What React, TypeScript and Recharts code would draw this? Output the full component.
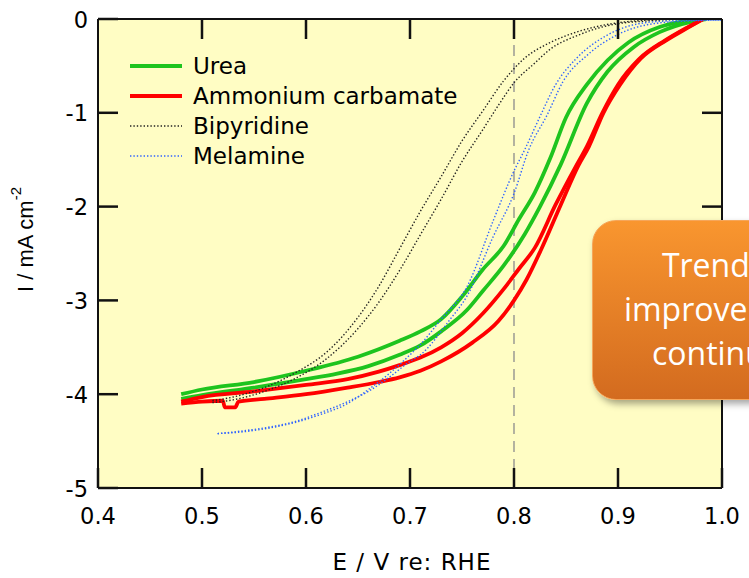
import React from 'react';
import {
	CartesianGrid,
	Legend,
	Line,
	LineChart,
	ReferenceLine,
	XAxis,
	YAxis,
} from 'recharts';

// potential (V vs RHE) and current (mA cm-2), two scans per compound
const ureaScan1E = [0.48, 0.5, 0.55, 0.6, 0.65, 0.69, 0.71, 0.73, 0.75, 0.77, 0.79, 0.805, 0.82, 0.835, 0.85, 0.87, 0.89, 0.91, 0.94, 0.96, 0.98];
const ureaScan1I = [-4.0, -3.95, -3.87, -3.75, -3.6, -3.43, -3.33, -3.2, -2.96, -2.67, -2.42, -2.13, -1.85, -1.48, -1.05, -0.7, -0.44, -0.25, -0.085, -0.03, 0];
const ureaScan2E = [0.48, 0.5, 0.55, 0.6, 0.63, 0.66, 0.69, 0.71, 0.73, 0.755, 0.77, 0.79, 0.81, 0.825, 0.845, 0.87, 0.89, 0.915, 0.94, 0.97, 0.985];
const ureaScan2I = [-4.05, -4.01, -3.93, -3.84, -3.78, -3.7, -3.58, -3.48, -3.33, -3.1, -2.9, -2.63, -2.3, -2.0, -1.55, -0.9, -0.56, -0.3, -0.14, -0.03, 0];

const carbScan1E = [0.48, 0.5, 0.55, 0.6, 0.64, 0.67, 0.69, 0.71, 0.73, 0.75, 0.77, 0.79, 0.805, 0.82, 0.84, 0.86, 0.87, 0.885, 0.9, 0.92, 0.945, 0.965, 0.982];
const carbScan1I = [-4.08, -4.03, -3.97, -3.9, -3.84, -3.76, -3.69, -3.61, -3.5, -3.35, -3.14, -2.88, -2.66, -2.44, -1.98, -1.56, -1.36, -1.0, -0.7, -0.43, -0.23, -0.1, 0];
const carbScan2E = [0.48, 0.5, 0.52, 0.522, 0.532, 0.535, 0.56, 0.6, 0.64, 0.67, 0.69, 0.71, 0.73, 0.76, 0.785, 0.8, 0.812, 0.826, 0.845, 0.862, 0.872, 0.886, 0.902, 0.922, 0.946, 0.966, 0.982];
const carbScan2I = [-4.1, -4.08, -4.07, -4.14, -4.14, -4.08, -4.05, -4.0, -3.93, -3.87, -3.82, -3.75, -3.65, -3.45, -3.22, -3.0, -2.78, -2.46, -1.98, -1.56, -1.36, -1.0, -0.7, -0.42, -0.23, -0.1, 0];

const bipyScan1E = [0.51, 0.53, 0.56, 0.59, 0.62, 0.65, 0.67, 0.69, 0.71, 0.73, 0.75, 0.77, 0.79, 0.81, 0.835, 0.86, 0.88, 0.9, 0.93, 0.96];
const bipyScan1I = [-4.07, -4.03, -3.93, -3.77, -3.55, -3.18, -2.85, -2.45, -2.05, -1.68, -1.3, -0.98, -0.66, -0.42, -0.25, -0.14, -0.08, -0.04, -0.01, 0];
const bipyScan2E = [0.51, 0.53, 0.56, 0.59, 0.62, 0.65, 0.67, 0.69, 0.71, 0.73, 0.75, 0.77, 0.785, 0.8, 0.82, 0.835, 0.86, 0.88, 0.9, 0.93, 0.96];
const bipyScan2I = [-4.09, -4.06, -3.97, -3.83, -3.62, -3.3, -3.02, -2.68, -2.3, -1.92, -1.52, -1.18, -0.92, -0.68, -0.47, -0.32, -0.18, -0.1, -0.05, -0.02, 0];

const melaScan1E = [0.515, 0.54, 0.565, 0.59, 0.613, 0.64, 0.66, 0.68, 0.7, 0.71, 0.73, 0.755, 0.78, 0.8, 0.81, 0.825, 0.84, 0.86, 0.89, 0.92, 0.95, 1.0];
const melaScan1I = [-4.42, -4.4, -4.36, -4.3, -4.22, -4.1, -3.95, -3.78, -3.58, -3.47, -3.2, -2.85, -2.15, -1.62, -1.4, -1.04, -0.7, -0.42, -0.17, -0.05, -0.02, -0.01];
const melaScan2E = [0.515, 0.54, 0.565, 0.59, 0.613, 0.64, 0.66, 0.68, 0.7, 0.71, 0.738, 0.755, 0.78, 0.8, 0.814, 0.832, 0.847, 0.871, 0.899, 0.934, 0.97, 1.0];
const melaScan2I = [-4.42, -4.39, -4.35, -4.29, -4.2, -4.08, -3.97, -3.82, -3.65, -3.58, -3.21, -2.95, -2.32, -1.86, -1.4, -1.02, -0.67, -0.38, -0.17, -0.05, -0.02, -0.01];

const xTicks = [0.4, 0.5, 0.6, 0.7, 0.8, 0.9, 1.0];
const yTicks = [0, -1, -2, -3, -4, -5];

const toPoints = (e: number[], i: number[]) => e.map((v, k) => ({ e: v, i: i[k] }));

const series = [
	{ name: 'Urea', color: '#1ec41e', dotted: false, scans: [toPoints(ureaScan1E, ureaScan1I), toPoints(ureaScan2E, ureaScan2I)] },
	{ name: 'Ammonium carbamate', color: '#ff0000', dotted: false, scans: [toPoints(carbScan1E, carbScan1I), toPoints(carbScan2E, carbScan2I)] },
	{ name: 'Bipyridine', color: '#222222', dotted: true, scans: [toPoints(bipyScan1E, bipyScan1I), toPoints(bipyScan2E, bipyScan2I)] },
	{ name: 'Melamine', color: '#2f63ff', dotted: true, scans: [toPoints(melaScan1E, melaScan1I), toPoints(melaScan2E, melaScan2I)] },
];

const FONT = '"DejaVu Sans", sans-serif';
const TICK_LEN = 20;
const FRAME = '#111';

const BottomTick = (props: any) => {
	const { x, y, payload } = props;
	return (
		<g>
			<line x1={x} x2={x} y1={y} y2={y - TICK_LEN} stroke={FRAME} strokeWidth={2.5} />
			<text x={x} y={y + 36} textAnchor="middle" fontFamily={FONT} fontSize={22.5} fill="#000">
				{Number(payload.value).toFixed(1)}
			</text>
		</g>
	);
};

const TopTick = (props: any) => {
	const { x, y } = props;
	return <line x1={x} x2={x} y1={y} y2={y + TICK_LEN} stroke={FRAME} strokeWidth={2.5} />;
};

const LeftTick = (props: any) => {
	const { x, y, payload } = props;
	return (
		<g>
			<line x1={x} x2={x + TICK_LEN} y1={y} y2={y} stroke={FRAME} strokeWidth={2.5} />
			<text x={x - 10} y={y} dy="0.38em" textAnchor="end" fontFamily={FONT} fontSize={22.5} fill="#000">
				{payload.value}
			</text>
		</g>
	);
};

const RightTick = (props: any) => {
	const { x, y } = props;
	return <line x1={x} x2={x - TICK_LEN} y1={y} y2={y} stroke={FRAME} strokeWidth={2.5} />;
};

const XTitle = (props: any) => {
	const vb = props.viewBox;
	return (
		<text x={vb.x + vb.width / 2 + 2} y={vb.y + vb.height - 8} textAnchor="middle" fontFamily={FONT} fontSize={23} letterSpacing={1} fill="#000">
			E / V re: RHE
		</text>
	);
};

const YTitle = (props: any) => {
	const vb = props.viewBox;
	const cx = 33;
	const cy = vb.y + vb.height / 2 - 14;
	return (
		<text x={cx} y={cy} transform={`rotate(-90, ${cx}, ${cy})`} textAnchor="middle" fontFamily='"Liberation Sans", Arial, sans-serif' fontSize={22} fill="#000">
			I / mA cm
			<tspan fontSize={15} dy={-12}>-2</tspan>
		</text>
	);
};

const LegendBox = () => (
	<div style={{ fontFamily: FONT, fontSize: 23, color: '#000' }}>
		{series.map((s) => (
			<div key={s.name} style={{ display: 'flex', alignItems: 'center', height: 30 }}>
				<svg width={52} height={30} style={{ marginRight: 11 }}>
					<line
						x1={0}
						x2={52}
						y1={15}
						y2={15}
						stroke={s.color}
						strokeWidth={s.dotted ? 1.4 : 4}
						strokeDasharray={s.dotted ? '1.4 2' : undefined}
					/>
				</svg>
				<span style={{ lineHeight: '30px' }}>{s.name}</span>
			</div>
		))}
	</div>
);

export default function App() {
	return (
		<div style={{ position: 'fixed', left: 0, top: 0, width: 749, height: 578, overflow: 'hidden', background: '#fff' }}>
			<LineChart width={749} height={578} margin={{ top: 0, right: 0, bottom: 0, left: 0 }}>
				<CartesianGrid xAxisId="bottom" yAxisId="left" horizontal={false} vertical={false} fill="#fffdc4" fillOpacity={1} />
				<XAxis
					xAxisId="bottom"
					dataKey="e"
					type="number"
					domain={[0.4, 1.0]}
					allowDataOverflow
					ticks={xTicks}
					interval={0}
					height={90}
					tickSize={0}
					tickMargin={0}
					tick={BottomTick}
					axisLine={{ stroke: FRAME, strokeWidth: 2 }}
					label={{ content: XTitle }}
				/>
				<XAxis
					xAxisId="top"
					orientation="top"
					dataKey="e"
					type="number"
					domain={[0.4, 1.0]}
					allowDataOverflow
					ticks={[0.5, 0.6, 0.7, 0.8, 0.9]}
					interval={0}
					height={19}
					tickSize={0}
					tickMargin={0}
					tick={TopTick}
					axisLine={{ stroke: FRAME, strokeWidth: 2 }}
				/>
				<YAxis
					yAxisId="left"
					type="number"
					domain={[-5, 0]}
					allowDataOverflow
					ticks={yTicks}
					interval={0}
					width={98}
					tickSize={0}
					tickMargin={0}
					tick={LeftTick}
					axisLine={{ stroke: FRAME, strokeWidth: 2 }}
					label={{ content: YTitle }}
				/>
				<YAxis
					yAxisId="right"
					orientation="right"
					type="number"
					domain={[-5, 0]}
					allowDataOverflow
					ticks={[-1, -2, -3, -4]}
					interval={0}
					width={27}
					tickSize={0}
					tickMargin={0}
					tick={RightTick}
					axisLine={{ stroke: FRAME, strokeWidth: 2 }}
				/>
				<ReferenceLine xAxisId="bottom" yAxisId="left" x={0.8} stroke="#8c8c8c" strokeWidth={1.3} strokeDasharray="11 7" />
				{series.map((s) =>
					s.scans.map((pts, k) => (
						<Line
							key={`${s.name}-${k}`}
							xAxisId="bottom"
							yAxisId="left"
							data={pts}
							dataKey="i"
							type="monotone"
							stroke={s.color}
							strokeWidth={s.dotted ? 1.4 : 3.8}
							strokeDasharray={s.dotted ? '1.4 2' : undefined}
							dot={false}
							activeDot={false}
							isAnimationActive={false}
							name={s.name}
						/>
					)),
				)}
				<Legend
					layout="vertical"
					align="center"
					verticalAlign="middle"
					wrapperStyle={{ left: 130, top: 51, width: 'auto' }}
					content={LegendBox}
				/>
			</LineChart>
			<div
				style={{
					position: 'absolute',
					left: 592,
					top: 220,
					width: 266,
					height: 180,
					borderRadius: 24,
					background: 'linear-gradient(to bottom, #f9962f, #d36b1f)',
					boxShadow: '3px 4px 7px rgba(0,0,0,0.35)',
					border: '1px solid #f6a65a',
					boxSizing: 'border-box',
					color: '#fff',
					fontFamily: '"Open Sans", sans-serif',
					fontSize: 32,
					lineHeight: '44px',
					textAlign: 'center',
					paddingTop: 22,
					whiteSpace: 'nowrap',
				}}
			>
				<div>Trend of</div>
				<div>improvement</div>
				<div>continues</div>
			</div>
		</div>
	);
}
